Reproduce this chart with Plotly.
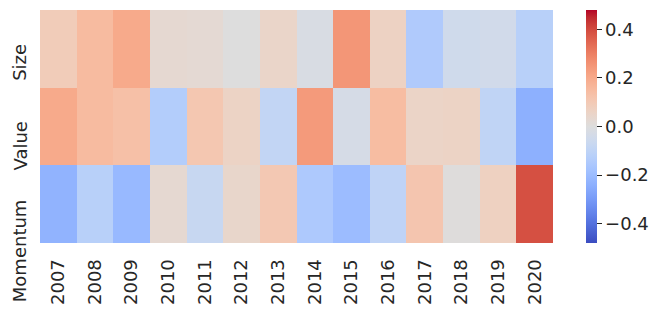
import plotly.graph_objects as go

years = ["2007", "2008", "2009", "2010", "2011", "2012", "2013", "2014",
         "2015", "2016", "2017", "2018", "2019", "2020"]
factors = ["Size", "Value", "Momentum"]

size_vals = [0.09, 0.15, 0.20, 0.03, 0.025, 0.0, 0.05, -0.02, 0.25, 0.065, -0.145, -0.05, -0.045, -0.12]
value_vals = [0.20, 0.15, 0.135, -0.135, 0.11, 0.06, -0.09, 0.24, -0.03, 0.145, 0.055, 0.06, -0.095, -0.24]
momentum_vals = [-0.23, -0.12, -0.21, 0.03, -0.075, 0.045, 0.105, -0.15, -0.2, -0.1, 0.115, 0.005, 0.07, 0.39]

cbar_ticks = [-0.4, -0.2, 0.0, 0.2, 0.4]
cbar_text = ["\u22120.4", "\u22120.2", "0.0", "0.2", "0.4"]

# matplotlib coolwarm (Moreland) control points
cw = [(59, 76, 192), (68, 90, 204), (77, 104, 215), (87, 117, 225), (98, 130, 234),
      (108, 142, 241), (119, 154, 247), (130, 165, 251), (141, 176, 254), (152, 185, 255),
      (163, 194, 255), (174, 201, 253), (184, 208, 249), (194, 213, 244), (204, 217, 238),
      (213, 219, 230), (221, 221, 221), (229, 216, 209), (236, 211, 197), (241, 204, 185),
      (245, 196, 173), (247, 187, 160), (247, 177, 148), (247, 166, 135), (244, 154, 123),
      (241, 141, 111), (236, 127, 99), (229, 112, 88), (222, 96, 77), (213, 80, 66),
      (203, 62, 56), (192, 40, 47), (180, 4, 38)]
colorscale = [[i / (len(cw) - 1), "rgb(%d,%d,%d)" % c] for i, c in enumerate(cw)]

z = [size_vals, value_vals, momentum_vals]

font = dict(family="DejaVu Sans", size=18, color="#262626")

fig = go.Figure(go.Heatmap(
    z=z, x=years, y=factors,
    colorscale=colorscale, zmin=-0.48, zmax=0.48,
    colorbar=dict(
        x=(586 - 40) / 513, xanchor="left", xpad=0,
        y=0, yanchor="bottom", len=1, lenmode="fraction",
        ypad=0,
        thickness=11, outlinewidth=0,
        tickvals=cbar_ticks, ticktext=cbar_text,
        ticks="outside", ticklen=5, tickwidth=1, tickcolor="#262626",
        tickfont=font,
    ),
))

for f in factors:
    fig.add_annotation(
        text=f, xref="paper", x=0, yref="y", y=f,
        xanchor="right", yanchor="top", textangle=-90,
        xshift=-8, yshift=7, showarrow=False, font=font,
    )

# page body has an 8px default margin, so the figure is 8px smaller
fig.update_layout(
    width=657, height=308,
    margin=dict(l=32, r=112, t=2, b=73),
    paper_bgcolor="white", plot_bgcolor="white",
    font=font,
)
fig.update_xaxes(type="category", tickangle=-90, showgrid=False, zeroline=False,
                 ticks="outside", ticklen=8, tickcolor="rgba(0,0,0,0)", tickfont=font,
                 automargin=False)
fig.update_yaxes(type="category", autorange="reversed", showgrid=False,
                 zeroline=False, showticklabels=False, automargin=False)

fig.write_html("out.html")
